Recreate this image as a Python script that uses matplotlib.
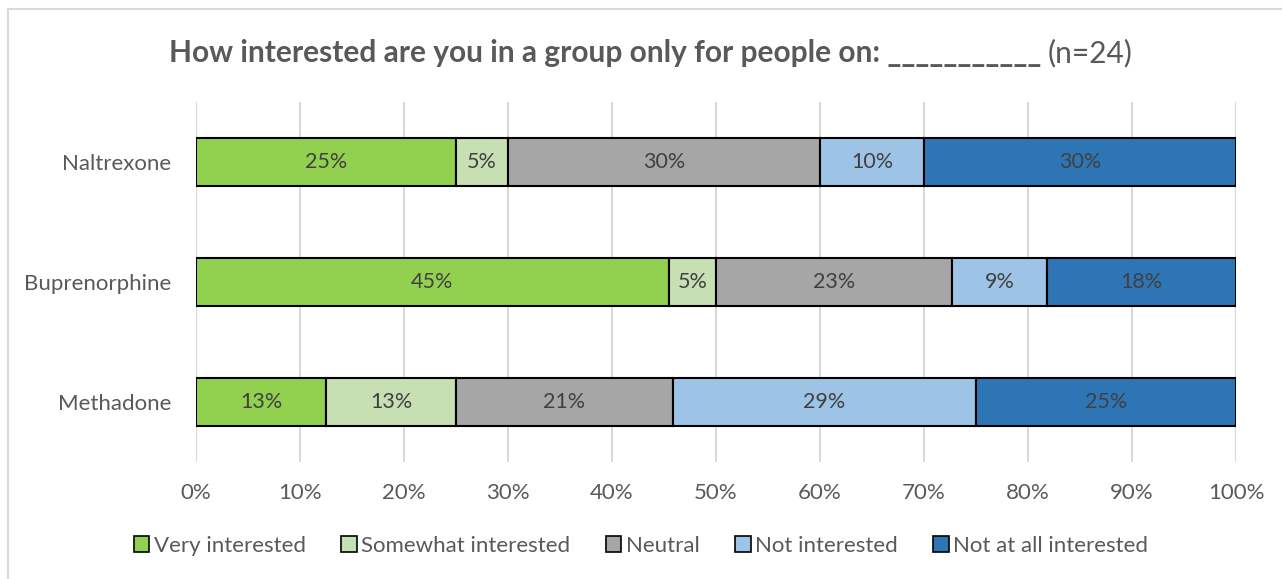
import numpy as np
import matplotlib
matplotlib.use("Agg")
import matplotlib.pyplot as plt
from matplotlib.patches import Patch
from matplotlib.lines import Line2D

plt.rcParams['font.family'] = ['Lato', 'DejaVu Sans']

drugs = ['Methadone', 'Buprenorphine', 'Naltrexone']
responses = ['Very interested', 'Somewhat interested', 'Neutral',
             'Not interested', 'Not at all interested']
# percent of respondents, per drug (bottom to top)
shares = {
    'Very interested':       [12.5, 45.45, 25.0],
    'Somewhat interested':   [12.5, 4.55, 5.0],
    'Neutral':               [20.83, 22.73, 30.0],
    'Not interested':        [29.17, 9.09, 10.0],
    'Not at all interested': [25.0, 18.18, 30.0],
}
colors = ['#92D050', '#C6E0B4', '#A6A6A6', '#9DC3E6', '#2E75B6']
xticks = np.arange(0, 101, 10)

W, H = 1282, 579
fig = plt.figure(figsize=(W / 100, H / 100), dpi=100)
ax = fig.add_axes([196 / W, 1 - 462 / H, (1236 - 196) / W, 360 / H])

# chart border
fig.add_artist(Line2D([8 / W, 8 / W], [0, 1 - 9 / H], color='#D9D9D9', lw=1.5))
fig.add_artist(Line2D([8 / W, 1], [1 - 9 / H, 1 - 9 / H], color='#D9D9D9', lw=1.5))

y = np.arange(len(drugs))
left = np.zeros(len(drugs))
for resp, col in zip(responses, colors):
    vals = np.array(shares[resp])
    ax.barh(y, vals, left=left, height=0.4, color=col, edgecolor='black',
            linewidth=1.5, zorder=3)
    for yi, l, v in zip(y, left, vals):
        ax.text(l + v / 2, yi, f'{int(v + 0.5)}%', ha='center', va='center',
                fontsize=15.5, color='#404040', zorder=4)
    left += vals

ax.set_xlim(0, 100)
ax.set_ylim(-0.5, 2.5)
ax.set_xticks(xticks)
ax.set_xticklabels([f'{t}%' for t in xticks])
ax.set_yticks(y)
ax.set_yticklabels(drugs)
ax.tick_params(axis='both', length=0, labelsize=16, labelcolor='#595959')
ax.tick_params(axis='x', pad=15)
ax.tick_params(axis='y', pad=18)
ax.grid(axis='x', color='#D9D9D9', linewidth=1.5, zorder=0)
for s in ax.spines.values():
    s.set_visible(False)

# title in two parts: bold and regular
t1 = fig.text(169 / W, 1 - 53 / H,
              'How interested are you in a group only for people on: ___________',
              fontsize=21.5, fontweight='bold', color='#595959', va='center', ha='left')
fig.canvas.draw()
bb = t1.get_window_extent()
fig.text(bb.x1 / W + 6 / W, 1 - 53 / H, '(n=24)', fontsize=21.5, color='#595959',
         va='center', ha='left')

handles = [Patch(facecolor=c, edgecolor='black', linewidth=1.2) for c in colors]
fig.legend(handles, responses, loc='center', bbox_to_anchor=(0.5, 1 - 546 / H),
           ncol=5, frameon=False, fontsize=16, handlelength=0.7, handleheight=0.7,
           handletextpad=0.2, columnspacing=1.6, labelcolor='#595959')

fig.savefig('out.png', dpi=100)
